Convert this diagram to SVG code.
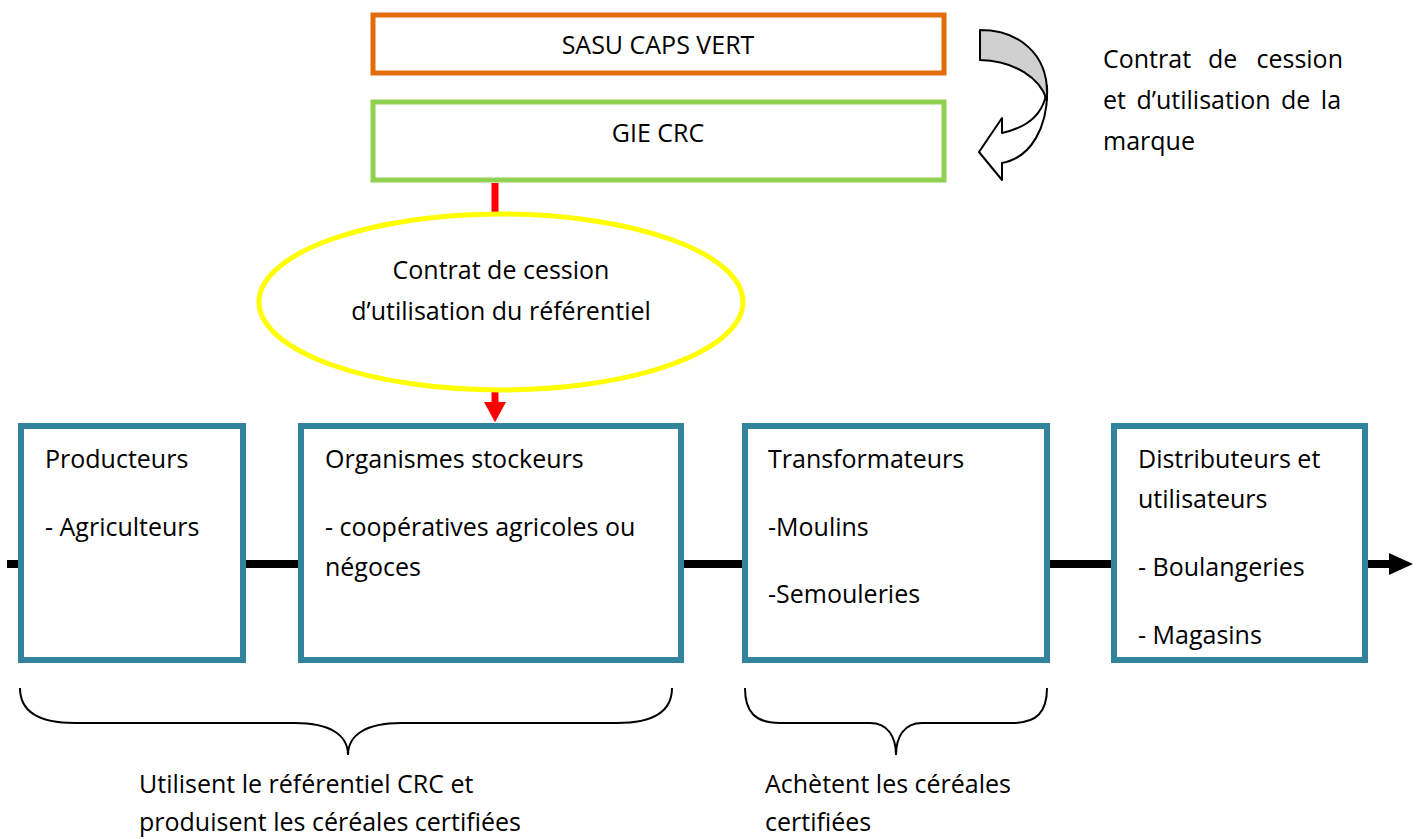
<svg xmlns="http://www.w3.org/2000/svg" width="1421" height="839" viewBox="0 0 1421 839">
<style>
text{font-family:"Open Sans","Liberation Sans",sans-serif;font-size:25px;fill:#000}
.box{fill:#fff;stroke:#31849B;stroke-width:6}
.brace{fill:none;stroke:#000;stroke-width:2}
</style>
<defs>
<marker id="blk" markerUnits="userSpaceOnUse" markerWidth="24" markerHeight="24" refX="0" refY="12" orient="auto" viewBox="0 0 24 24">
<path d="M0,1 L24,12 L0,23 Z" fill="#000"/>
</marker>
<marker id="red" markerUnits="userSpaceOnUse" markerWidth="24" markerHeight="22" refX="0" refY="12" orient="auto" viewBox="0 0 22 24">
<path d="M0,0 L22,12 L0,24 Z" fill="#FF0000"/>
</marker>
</defs>
<rect width="1421" height="839" fill="#fff"/>
<g id="connectors">
<line x1="7" y1="564" x2="1389" y2="564" stroke="#000" stroke-width="8" marker-end="url(#blk)"/>
<line x1="495" y1="183" x2="495" y2="215" stroke="#FF0000" stroke-width="7"/>
<line x1="495" y1="390" x2="495" y2="402" stroke="#FF0000" stroke-width="7" marker-end="url(#red)"/>
<g id="curved-arrow" stroke="#000" stroke-width="2" stroke-linejoin="round">
<path d="M1047,86 C1049,128 1030,158 1002,163 L1002,180 L979,152 L1002,118 L1002,133 C1025,128 1040,116 1045,99 Z" fill="#fff"/>
<path d="M980,30 C1020,30 1047,55 1047,92 L1047,100 C1040,78 1015,61 980,60 Z" fill="#D0D0D0"/>
</g>
</g>
<g id="sasu">
<rect x="373" y="15" width="571" height="58" fill="#fff" stroke="#E36C09" stroke-width="5"/>
<text x="658" y="54" text-anchor="middle">SASU CAPS VERT</text>
</g>
<g id="gie">
<rect x="373" y="102" width="571" height="78" fill="#fff" stroke="#92D050" stroke-width="5"/>
<text x="658" y="142" text-anchor="middle">GIE CRC</text>
</g>
<g id="contrat-referentiel">
<ellipse cx="501" cy="302" rx="242" ry="88" fill="#fff" stroke="#FFFF00" stroke-width="5"/>
<text x="501" y="279" text-anchor="middle">Contrat de cession</text>
<text x="501" y="320" text-anchor="middle">d’utilisation du référentiel</text>
</g>
<g id="contrat-marque">
<text x="1103" y="68">Contrat</text>
<text x="1208" y="68">de</text>
<text x="1343" y="68" text-anchor="end">cession</text>
<text x="1103" y="109" word-spacing="4">et d’utilisation de la</text>
<text x="1103" y="150">marque</text>
</g>
<g id="producteurs">
<rect class="box" x="21" y="426" width="222" height="234"/>
<text x="45" y="468">Producteurs</text>
<text x="45" y="536">- Agriculteurs</text>
</g>
<g id="organismes">
<rect class="box" x="301" y="426" width="380" height="234"/>
<text x="325" y="468">Organismes stockeurs</text>
<text x="325" y="536">- coopératives agricoles ou</text>
<text x="325" y="576">négoces</text>
</g>
<g id="transformateurs">
<rect class="box" x="745" y="426" width="302" height="234"/>
<text x="768" y="468">Transformateurs</text>
<text x="768" y="536">-Moulins</text>
<text x="768" y="603">-Semouleries</text>
</g>
<g id="distributeurs">
<rect class="box" x="1114" y="426" width="251" height="234"/>
<text x="1138" y="468">Distributeurs et</text>
<text x="1138" y="508">utilisateurs</text>
<text x="1138" y="576">- Boulangeries</text>
<text x="1138" y="644">- Magasins</text>
</g>
<g id="brace-1">
<path class="brace" d="M20,688 C20,712 40,723 75,723 L295,723 C330,723 348,735 348,755 C348,735 366,723 401,723 L617,723 C652,723 672,712 672,688"/>
<text x="139" y="793">Utilisent le référentiel CRC et</text>
<text x="139" y="831">produisent les céréales certifiées</text>
</g>
<g id="brace-2">
<path class="brace" d="M745,688 C745,712 755,723 780,723 L870,723 C888,723 896,737 896,755 C896,737 904,723 922,723 L1012,723 C1037,723 1047,712 1047,688"/>
<text x="765" y="793">Achètent les céréales</text>
<text x="765" y="831">certifiées</text>
</g>
</svg>
